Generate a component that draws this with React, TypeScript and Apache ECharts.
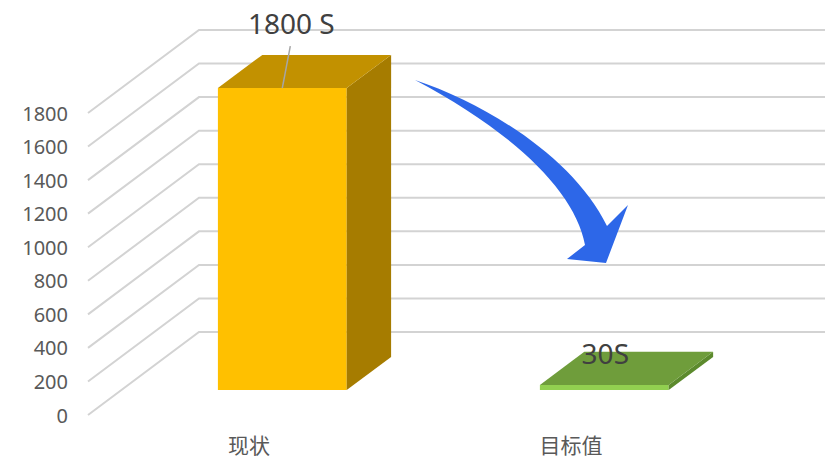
import React, { useEffect, useRef } from "react";
import * as echarts from "echarts";

const categories = ["现状", "目标值"];
const values = [1800, 30];
const valueLabels = ["1800 S", "30S"];
const yTicks = [0, 200, 400, 600, 800, 1000, 1200, 1400, 1600, 1800];

// 3D depth geometry (pixels)
const DX = 111;
const DY = 83;
const FRONT = 0.3;
const DEPTH = 0.4;

const faceColors = [
  { front: "#FFC000", top: "#C29100", side: "#A67C00" },
  { front: "#92D050", top: "#6F9D3B", side: "#5C8A2D" },
];

const ARROW_D =
  "M415 80 C490 105 575 160 607 226 L628 205 L606 263 L567 259 L585 245 C575 190 510 130 415 80 Z";

export default function App() {
  const ref = useRef<HTMLDivElement>(null);
  useEffect(() => {
    document.body.style.margin = "0";
    echarts.graphic.registerShape(
      "curveArrow",
      echarts.graphic.extendPath(ARROW_D, {}) as any
    );
    const chart = echarts.init(ref.current!, null, { renderer: "svg" });
    const option: any = {
      animation: false,
      backgroundColor: "#ffffff",
      grid: { left: 88, right: 93, top: 113, bottom: 43 },
      xAxis: {
        type: "category",
        data: categories,
        axisLine: { show: false },
        axisTick: { show: false },
        axisLabel: {
          fontSize: 21,
          lineHeight: 22,
          color: "#595959",
          margin: 18,
          fontFamily: "Noto Sans CJK SC",
        },
      },
      yAxis: {
        type: "value",
        min: 0,
        max: 1800,
        interval: 200,
        axisLine: { show: false },
        axisTick: { show: false },
        splitLine: { show: false },
        axisLabel: {
          fontSize: 20,
          color: "#595959",
          margin: 20,
          padding: [4, 0, 0, 0],
          fontFamily: "Noto Sans",
          formatter: (v: number) => String(v),
        },
      },
      series: [
        {
          type: "custom",
          z: 1,
          silent: true,
          data: yTicks.map((v) => [0, v]),
          encode: { x: 0, y: 1 },
          renderItem: (params: any, api: any) => {
            const y = api.coord([0, api.value(1)])[1];
            const x0 = params.coordSys.x;
            return {
              type: "polyline",
              shape: {
                points: [
                  [x0, y],
                  [x0 + DX, y - DY],
                  [api.getWidth(), y - DY],
                ],
              },
              style: { stroke: "#D3D3D3", lineWidth: 2, fill: "none" },
            };
          },
        },
        {
          type: "custom",
          z: 2,
          data: values.map((v, i) => [i, v]),
          encode: { x: 0, y: 1 },
          renderItem: (params: any, api: any) => {
            const idx = params.dataIndex;
            const c = api.coord([api.value(0), api.value(1)]);
            const base = api.coord([api.value(0), 0]);
            const bw = api.size([1, 0])[0] * 0.4;
            const ox = DX * FRONT;
            const oy = DY * FRONT;
            const dx = DX * DEPTH;
            const dy = DY * DEPTH;
            const x1 = c[0] - bw / 2 + ox;
            const x2 = c[0] + bw / 2 + ox;
            const yT = c[1] - oy;
            const yB = base[1] - oy;
            const col = faceColors[idx];
            const cx = (x1 + x2) / 2;
            const children: any[] = [
              {
                type: "polygon",
                shape: { points: [[x1, yB], [x2, yB], [x2, yT], [x1, yT]] },
                style: { fill: col.front },
              },
              {
                type: "polygon",
                shape: {
                  points: [[x2, yB], [x2 + dx, yB - dy], [x2 + dx, yT - dy], [x2, yT]],
                },
                style: { fill: col.side },
              },
              {
                type: "polygon",
                shape: {
                  points: [[x1, yT], [x2, yT], [x2 + dx, yT - dy], [x1 + dx, yT - dy]],
                },
                style: { fill: col.top },
              },
            ];
            if (idx === 0) {
              children.push({
                type: "line",
                shape: { x1: cx + 8, y1: yT - 42, x2: cx, y2: yT },
                style: { stroke: "#A6A6A6", lineWidth: 1.5 },
              });
              children.push({
                type: "text",
                style: {
                  text: valueLabels[idx],
                  x: cx + 9,
                  y: yT - 65,
                  align: "center",
                  verticalAlign: "middle",
                  fill: "#404040",
                  fontSize: 28,
                  fontFamily: "Noto Sans",
                },
              });
            } else {
              children.push({
                type: "text",
                style: {
                  text: valueLabels[idx],
                  x: cx + 1,
                  y: yT - 32,
                  align: "center",
                  verticalAlign: "middle",
                  fill: "#404040",
                  fontSize: 28,
                  fontFamily: "Noto Sans",
                },
              });
            }
            return { type: "group", children };
          },
        },
      ],
      graphic: [
        {
          type: "curveArrow",
          x: 0,
          y: 0,
          z: 100,
          silent: true,
          style: { fill: "#2D67E8" },
        },
      ],
    };
    chart.setOption(option);
    return () => chart.dispose();
  }, []);
  return <div ref={ref} style={{ width: 825, height: 458 }} />;
}
